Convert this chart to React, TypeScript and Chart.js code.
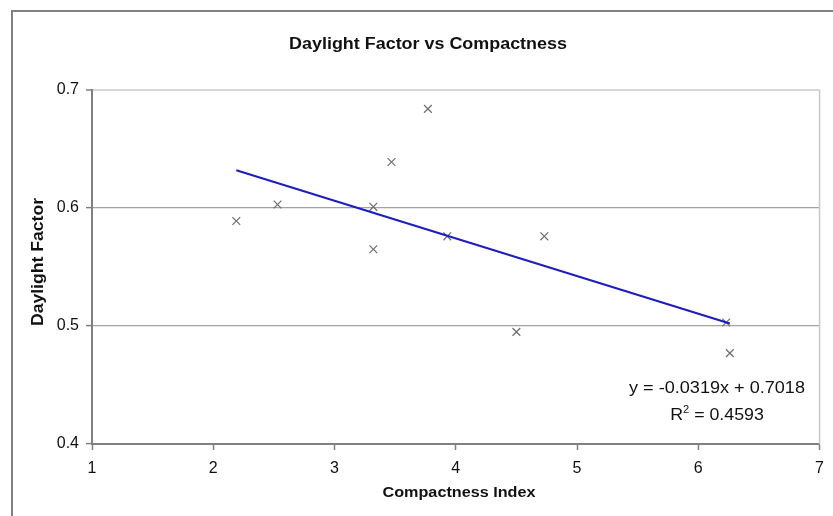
import React, { useEffect, useRef } from "react";
import { Chart, registerables } from "chart.js";

Chart.register(...registerables);

// ---- data ----
const compactness = [2.19, 2.53, 3.32, 3.32, 3.47, 3.77, 3.93, 4.73, 4.5, 6.23, 6.26];
const daylightFactor = [0.589, 0.603, 0.601, 0.565, 0.639, 0.684, 0.576, 0.576, 0.495, 0.503, 0.477];
const trendSlope = -0.0319;
const trendIntercept = 0.7018;
const rSquaredText = "0.4593";
const xTickRange = [1, 7];
const yTickRange = [0.4, 0.7];
const chartTitle = "Daylight Factor vs Compactness";
const xAxisTitle = "Compactness Index";
const yAxisTitle = "Daylight Factor";
const equationText = "y = -0.0319x + 0.7018";

const FONT = "Arial, 'Liberation Sans', sans-serif";

function drawStretched(
  ctx: CanvasRenderingContext2D,
  text: string,
  x: number,
  y: number,
  font: string,
  sx: number,
  angle = 0
) {
  ctx.save();
  ctx.translate(x, y);
  ctx.rotate(angle);
  ctx.scale(sx, 1);
  ctx.font = font;
  ctx.textAlign = "center";
  ctx.textBaseline = "middle";
  ctx.fillText(text, 0, 0);
  ctx.restore();
}

const decorPlugin = {
  id: "decor",
  beforeDraw(chart: any) {
    const ctx = chart.ctx as CanvasRenderingContext2D;
    ctx.save();
    ctx.fillStyle = "#ffffff";
    ctx.fillRect(0, 0, chart.width, chart.height);
    ctx.restore();
  },
  afterDraw(chart: any) {
    const ctx = chart.ctx as CanvasRenderingContext2D;
    const area = chart.chartArea;
    ctx.save();
    // outer chart border (extends past the viewport)
    ctx.strokeStyle = "#808080";
    ctx.lineWidth = 2;
    ctx.strokeRect(12, 11, 1000, 1000);
    // plot area right border
    ctx.strokeStyle = "#c8c8c8";
    ctx.lineWidth = 1.5;
    ctx.beginPath();
    ctx.moveTo(area.right, area.top);
    ctx.lineTo(area.right, area.bottom);
    ctx.stroke();

    ctx.fillStyle = "#111111";
    drawStretched(ctx, chartTitle, 428, 45, `bold 16px ${FONT}`, 1.12);
    drawStretched(ctx, xAxisTitle, 459, 493, `bold 15px ${FONT}`, 1.08);
    drawStretched(ctx, yAxisTitle, 39, 262, `bold 16px ${FONT}`, 1.1, -Math.PI / 2);
    drawStretched(ctx, equationText, 717, 389, `16px ${FONT}`, 1.13);

    // R² line
    const sx = 1.11;
    ctx.save();
    ctx.translate(717, 416);
    ctx.scale(sx, 1);
    ctx.textBaseline = "middle";
    ctx.textAlign = "left";
    ctx.font = `16px ${FONT}`;
    const w1 = ctx.measureText("R").width;
    const w3 = ctx.measureText(" = " + rSquaredText).width;
    ctx.font = `10px ${FONT}`;
    const w2 = ctx.measureText("2").width;
    const total = w1 + w2 + w3;
    let x = -total / 2;
    ctx.font = `16px ${FONT}`;
    ctx.fillText("R", x, 0);
    x += w1;
    ctx.font = `10px ${FONT}`;
    ctx.fillText("2", x, -6);
    x += w2;
    ctx.font = `16px ${FONT}`;
    ctx.fillText(" = " + rSquaredText, x, 0);
    ctx.restore();

    ctx.restore();
  },
};

export default function App() {
  const canvasRef = useRef<HTMLCanvasElement | null>(null);

  useEffect(() => {
    if (!canvasRef.current) return;
    const points = compactness.map((x, i) => ({ x, y: daylightFactor[i] }));
    const xMin = Math.min(...compactness);
    const xMax = Math.max(...compactness);
    const trend = [
      { x: xMin, y: trendSlope * xMin + trendIntercept },
      { x: xMax, y: trendSlope * xMax + trendIntercept },
    ];

    const chart = new Chart(canvasRef.current, {
      type: "scatter",
      data: {
        datasets: [
          {
            label: "Trend",
            data: trend,
            showLine: true,
            borderColor: "#1c1cc4",
            borderWidth: 2,
            pointRadius: 0,
            fill: false,
          },
          {
            label: "Daylight Factor",
            data: points,
            pointStyle: "crossRot",
            pointRadius: 5.5,
            borderColor: "#6e6e6e",
            backgroundColor: "#6e6e6e",
            borderWidth: 1.2,
            showLine: false,
          },
        ],
      },
      options: {
        responsive: false,
        animation: false,
        devicePixelRatio: 1,
        layout: { padding: { top: 90, right: 9, left: 0, bottom: 0 } },
        plugins: {
          legend: { display: false },
          title: { display: false },
          tooltip: { enabled: false },
        },
        scales: {
          x: {
            type: "linear",
            min: xTickRange[0],
            max: xTickRange[1],
            afterFit: (scale: any) => {
              scale.height = 72;
            },
            ticks: {
              stepSize: 1,
              font: { family: FONT, size: 16 },
              color: "#111111",
              padding: 9,
            },
            grid: {
              drawOnChartArea: false,
              drawTicks: true,
              tickLength: 6,
              tickColor: "#808080",
              tickWidth: 1.5,
            },
            border: { color: "#808080", width: 2 },
          },
          y: {
            type: "linear",
            min: yTickRange[0],
            max: yTickRange[1],
            afterFit: (scale: any) => {
              scale.width = 92;
            },
            ticks: {
              stepSize: 0.1,
              font: { family: FONT, size: 16 },
              color: "#111111",
              padding: 7,
              callback: (v: any) => Number(v).toFixed(1),
            },
            grid: {
              color: (c: any) => (c.tick && c.tick.value > 0.69 ? "#d6d6d6" : "#a3a3a3"),
              lineWidth: (c: any) => (c.tick && c.tick.value > 0.69 ? 2 : 1.2),
              tickColor: "#808080",
              tickLength: 6,
              tickWidth: 1.5,
            },
            border: { color: "#808080", width: 2 },
          },
        },
      },
      plugins: [decorPlugin],
    } as any);

    return () => chart.destroy();
  }, []);

  return (
    <div style={{ position: "fixed", left: 0, top: 0, width: 833, height: 516, background: "#fff" }}>
      <canvas ref={canvasRef} width={833} height={516} style={{ display: "block" }} />
    </div>
  );
}
